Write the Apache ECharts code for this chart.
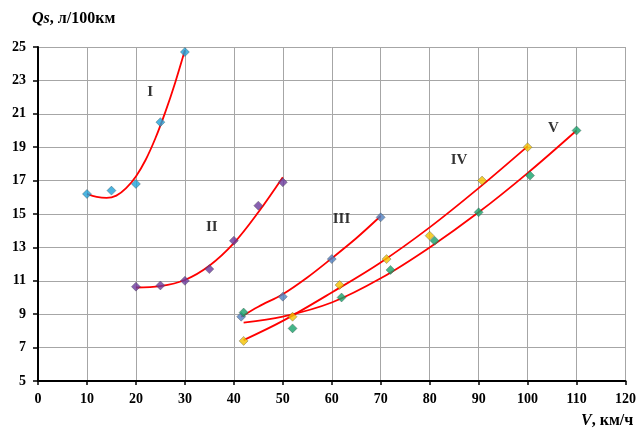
<!DOCTYPE html>
<html><head><meta charset="utf-8">
<script src="https://cdn.jsdelivr.net/npm/echarts@6/dist/echarts.min.js"></script>
<style>html,body{margin:0;padding:0;background:#fff}#c{width:639px;height:430px}</style>
</head><body><div id="c"></div>
<script>
// Measured points
const s1x = [10, 15, 20, 25, 30];
const s1y = [16.2, 16.4, 16.8, 20.5, 24.7];
const s2x = [20, 25, 30, 35, 40, 45, 50];
const s2y = [10.65, 10.72, 11.0, 11.7, 13.4, 15.5, 16.9];
const s3x = [41.5, 50, 60, 70];
const s3y = [8.85, 10.05, 12.3, 14.8];
const s4x = [42, 52, 61.6, 71.2, 80, 90.7, 100];
const s4y = [7.4, 8.85, 10.75, 12.3, 13.7, 17.0, 19.0];
const s5x = [42, 52, 62, 72, 81, 90, 100.5, 110];
const s5y = [9.1, 8.15, 10.0, 11.65, 13.4, 15.1, 17.3, 20.0];
// Trend curves
const t1x = [10, 12, 14, 16, 18, 20, 22, 24, 26, 28, 30];
const t1y = [16.2, 16.02, 15.96, 16.1, 16.55, 17.25, 18.25, 19.55, 21.1, 22.85, 24.8];
const t2x = [20, 25, 30, 35, 40, 45, 50];
const t2y = [10.6, 10.68, 11.05, 11.9, 13.25, 15.1, 17.2];
const t3x = [41.5, 45, 50, 55, 60, 65, 70];
const t3y = [8.85, 9.45, 10.2, 11.2, 12.35, 13.55, 14.88];
const t4x = [42, 50, 60, 70, 80, 90, 100];
const t4y = [7.45, 8.6, 10.3, 12.1, 14.2, 16.55, 19.05];
const t5x = [42, 50, 60, 70, 80, 90, 100, 110];
const t5y = [8.5, 8.85, 9.7, 11.15, 13.0, 15.1, 17.45, 20.0];
// Curve labels
const lblText = ['I', 'II', 'III', 'IV', 'V'];
const lblX = [22.9, 35.5, 62.0, 86.0, 105.3];
const lblY = [22.3, 14.2, 14.7, 18.2, 20.15];
const xTickLabels = [0,10,20,30,40,50,60,70,80,90,100,110,120];
const yTickLabels = [5,7,9,11,13,15,17,19,21,23,25];

const zip = (a, b) => a.map((v, i) => [v, b[i]]);
const FONT = '"Liberation Serif","Times New Roman",serif';
const ptSeries = (x, y, color) => ({
  type: 'scatter', data: zip(x, y), symbol: 'diamond', symbolSize: 9, z: 5,
  itemStyle: { color: color, borderColor: 'rgba(60,60,60,0.7)', borderWidth: 0.6 }
});
const trend = (x, y) => ({
  type: 'line', data: zip(x, y), smooth: 0.35, showSymbol: false, symbol: 'none', z: 4,
  lineStyle: { color: '#ff0000', width: 1.8 }
});

const chart = echarts.init(document.getElementById('c'));
chart.setOption({
  animation: false,
  backgroundColor: '#fff',
  grid: { left: 38, right: 13, top: 47, bottom: 49 },
  xAxis: {
    type: 'value', min: 0, max: 120, interval: 10,
    axisLine: { lineStyle: { color: '#000', width: 2 } },
    axisTick: { show: true, length: 4, lineStyle: { color: '#000', width: 1.5 } },
    splitLine: { lineStyle: { color: '#a6a6a6', width: 1 } },
    axisLabel: { color: '#000', fontFamily: FONT, fontWeight: 'bold', fontSize: 14, margin: 11,
      formatter: v => xTickLabels.includes(v) ? String(v) : '' }
  },
  yAxis: {
    type: 'value', min: 5, max: 25, interval: 2,
    axisLine: { lineStyle: { color: '#000', width: 2 } },
    axisTick: { show: true, length: 5, lineStyle: { color: '#000', width: 1.5 } },
    splitLine: { lineStyle: { color: '#a6a6a6', width: 1 } },
    axisLabel: { color: '#000', fontFamily: FONT, fontWeight: 'bold', fontSize: 14, margin: 12,
      formatter: v => yTickLabels.includes(v) ? String(v) : '' }
  },
  graphic: [
    { type: 'text', left: 32, top: 11, style: {
      text: '{i|Qs}{n|, л/100км}',
      rich: { i: { fontFamily: FONT, fontWeight: 'bold', fontStyle: 'italic', fontSize: 16, fill: '#000' },
              n: { fontFamily: FONT, fontWeight: 'bold', fontSize: 16, fill: '#000' } } } },
    { type: 'text', left: 581, top: 413, style: {
      text: '{i|V}{n|, км/ч}',
      rich: { i: { fontFamily: FONT, fontWeight: 'bold', fontStyle: 'italic', fontSize: 16, fill: '#000' },
              n: { fontFamily: FONT, fontWeight: 'bold', fontSize: 16, fill: '#000' } } } }
  ],
  series: [
    trend(t1x, t1y), trend(t2x, t2y), trend(t3x, t3y), trend(t4x, t4y), trend(t5x, t5y),
    ptSeries(s1x, s1y, '#1ea3da'),
    ptSeries(s2x, s2y, '#6a3a9c'),
    ptSeries(s3x, s3y, '#4f7fbf'),
    ptSeries(s4x, s4y, '#f3c200'),
    ptSeries(s5x, s5y, '#15a36a'),
    { type: 'scatter', symbolSize: 0, z: 6, silent: true,
      data: lblX.map((x, i) => ({ value: [x, lblY[i]], name: lblText[i] })),
      label: { show: true, position: 'inside', formatter: p => p.name,
        fontFamily: FONT, fontWeight: 'bold', fontSize: 15, color: '#000' } }
  ]
});
</script></body></html>
